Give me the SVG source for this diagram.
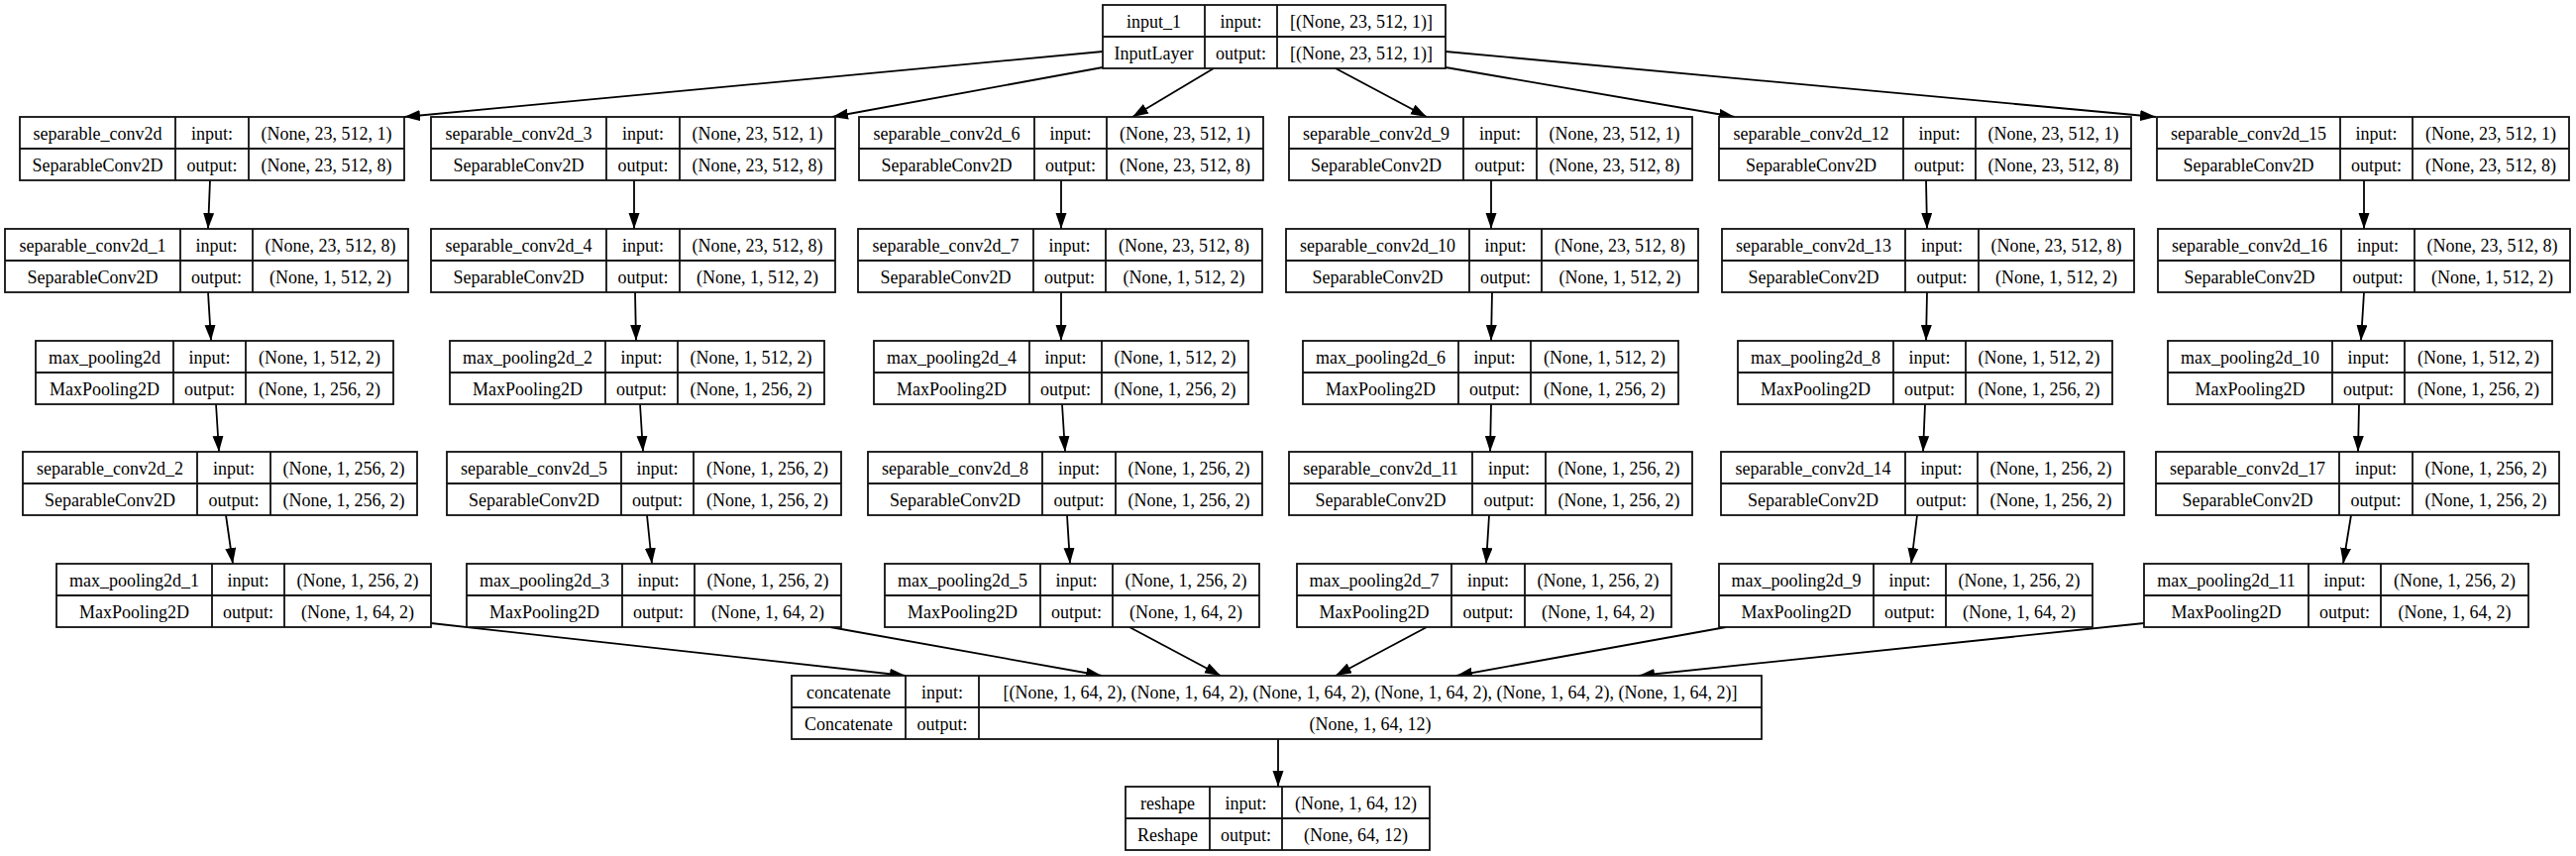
<svg xmlns="http://www.w3.org/2000/svg" width="2600" height="864" viewBox="0 0 2600 864">
<style>
.b{fill:#fff;stroke:#111;stroke-width:1.8}
.g{fill:none;stroke:#111;stroke-width:1.8}
text{font-family:"Liberation Serif","Times New Roman",serif;font-size:18px;text-anchor:middle;fill:#000}
.e line{stroke:#000;stroke-width:1.8;marker-end:url(#ah)}
</style>
<defs>
<marker id="ah" markerUnits="userSpaceOnUse" markerWidth="17" markerHeight="12" refX="16" refY="5.5" orient="auto">
<path d="M0,0 L16,5.5 L0,11 z" fill="#000"/>
</marker>
</defs>
<rect width="2600" height="864" fill="#fff"/>
<g id="edges" class="e">
<line x1="1113" y1="52" x2="408" y2="118"/>
<line x1="1113" y1="68" x2="840" y2="118"/>
<line x1="1225" y1="69" x2="1143" y2="118"/>
<line x1="1348" y1="69" x2="1440" y2="118"/>
<line x1="1459" y1="68" x2="1751" y2="118"/>
<line x1="1459" y1="52" x2="2176" y2="118"/>
<line x1="212" y1="182" x2="210" y2="231"/>
<line x1="210" y1="295" x2="213" y2="344"/>
<line x1="218" y1="408" x2="221" y2="456"/>
<line x1="228" y1="520" x2="235" y2="569"/>
<line x1="640" y1="182" x2="640" y2="231"/>
<line x1="641" y1="295" x2="642" y2="344"/>
<line x1="646" y1="408" x2="649" y2="456"/>
<line x1="653" y1="520" x2="658" y2="569"/>
<line x1="1071" y1="182" x2="1071" y2="231"/>
<line x1="1071" y1="295" x2="1071" y2="344"/>
<line x1="1072" y1="408" x2="1075" y2="456"/>
<line x1="1077" y1="520" x2="1080" y2="569"/>
<line x1="1505" y1="182" x2="1505" y2="231"/>
<line x1="1506" y1="295" x2="1505" y2="344"/>
<line x1="1505" y1="408" x2="1504" y2="456"/>
<line x1="1503" y1="520" x2="1500" y2="569"/>
<line x1="1944" y1="182" x2="1945" y2="231"/>
<line x1="1945" y1="295" x2="1944" y2="344"/>
<line x1="1943" y1="408" x2="1941" y2="456"/>
<line x1="1935" y1="520" x2="1929" y2="569"/>
<line x1="2386" y1="182" x2="2386" y2="231"/>
<line x1="2386" y1="295" x2="2383" y2="344"/>
<line x1="2381" y1="408" x2="2380" y2="456"/>
<line x1="2373" y1="520" x2="2365" y2="569"/>
<line x1="435" y1="629" x2="914" y2="682"/>
<line x1="838" y1="633" x2="1112" y2="682"/>
<line x1="1140" y1="633" x2="1232" y2="682"/>
<line x1="1440" y1="633" x2="1348" y2="682"/>
<line x1="1742" y1="633" x2="1470" y2="682"/>
<line x1="2164" y1="629" x2="1654" y2="682"/>
<line x1="1290" y1="746" x2="1290" y2="794"/>
</g>
<g id="input_1"><rect class="b" x="1113" y="5" width="346" height="64"/><path class="g" d="M1113 37H1459M1216 5V69M1289 5V69"/>
<text x="1164.5" y="28">input_1</text><text x="1164.5" y="60">InputLayer</text><text x="1252.5" y="28">input:</text><text x="1252.5" y="60">output:</text><text x="1374" y="28">[(None, 23, 512, 1)]</text><text x="1374" y="60">[(None, 23, 512, 1)]</text></g>

<g id="separable_conv2d"><rect class="b" x="20" y="118" width="388" height="64"/><path class="g" d="M20 150H408M177 118V182M251 118V182"/>
<text x="98.5" y="141">separable_conv2d</text><text x="98.5" y="173">SeparableConv2D</text><text x="214" y="141">input:</text><text x="214" y="173">output:</text><text x="329.5" y="141">(None, 23, 512, 1)</text><text x="329.5" y="173">(None, 23, 512, 8)</text></g>
<g id="separable_conv2d_1"><rect class="b" x="5" y="231" width="407" height="64"/><path class="g" d="M5 263H412M182 231V295M255 231V295"/>
<text x="93.5" y="254">separable_conv2d_1</text><text x="93.5" y="286">SeparableConv2D</text><text x="218.5" y="254">input:</text><text x="218.5" y="286">output:</text><text x="333.5" y="254">(None, 23, 512, 8)</text><text x="333.5" y="286">(None, 1, 512, 2)</text></g>
<g id="max_pooling2d"><rect class="b" x="36" y="344" width="361" height="64"/><path class="g" d="M36 376H397M175 344V408M248 344V408"/>
<text x="105.5" y="367">max_pooling2d</text><text x="105.5" y="399">MaxPooling2D</text><text x="211.5" y="367">input:</text><text x="211.5" y="399">output:</text><text x="322.5" y="367">(None, 1, 512, 2)</text><text x="322.5" y="399">(None, 1, 256, 2)</text></g>
<g id="separable_conv2d_2"><rect class="b" x="23" y="456" width="398" height="64"/><path class="g" d="M23 488H421M199 456V520M273 456V520"/>
<text x="111" y="479">separable_conv2d_2</text><text x="111" y="511">SeparableConv2D</text><text x="236" y="479">input:</text><text x="236" y="511">output:</text><text x="347" y="479">(None, 1, 256, 2)</text><text x="347" y="511">(None, 1, 256, 2)</text></g>
<g id="max_pooling2d_1"><rect class="b" x="57" y="569" width="378" height="64"/><path class="g" d="M57 601H435M214 569V633M287 569V633"/>
<text x="135.5" y="592">max_pooling2d_1</text><text x="135.5" y="624">MaxPooling2D</text><text x="250.5" y="592">input:</text><text x="250.5" y="624">output:</text><text x="361" y="592">(None, 1, 256, 2)</text><text x="361" y="624">(None, 1, 64, 2)</text></g>

<g id="separable_conv2d_3"><rect class="b" x="435" y="118" width="408" height="64"/><path class="g" d="M435 150H843M612 118V182M686 118V182"/>
<text x="523.5" y="141">separable_conv2d_3</text><text x="523.5" y="173">SeparableConv2D</text><text x="649" y="141">input:</text><text x="649" y="173">output:</text><text x="764.5" y="141">(None, 23, 512, 1)</text><text x="764.5" y="173">(None, 23, 512, 8)</text></g>
<g id="separable_conv2d_4"><rect class="b" x="435" y="231" width="408" height="64"/><path class="g" d="M435 263H843M612 231V295M686 231V295"/>
<text x="523.5" y="254">separable_conv2d_4</text><text x="523.5" y="286">SeparableConv2D</text><text x="649" y="254">input:</text><text x="649" y="286">output:</text><text x="764.5" y="254">(None, 23, 512, 8)</text><text x="764.5" y="286">(None, 1, 512, 2)</text></g>
<g id="max_pooling2d_2"><rect class="b" x="454" y="344" width="378" height="64"/><path class="g" d="M454 376H832M611 344V408M684 344V408"/>
<text x="532.5" y="367">max_pooling2d_2</text><text x="532.5" y="399">MaxPooling2D</text><text x="647.5" y="367">input:</text><text x="647.5" y="399">output:</text><text x="758" y="367">(None, 1, 512, 2)</text><text x="758" y="399">(None, 1, 256, 2)</text></g>
<g id="separable_conv2d_5"><rect class="b" x="451" y="456" width="398" height="64"/><path class="g" d="M451 488H849M627 456V520M700 456V520"/>
<text x="539" y="479">separable_conv2d_5</text><text x="539" y="511">SeparableConv2D</text><text x="663.5" y="479">input:</text><text x="663.5" y="511">output:</text><text x="774.5" y="479">(None, 1, 256, 2)</text><text x="774.5" y="511">(None, 1, 256, 2)</text></g>
<g id="max_pooling2d_3"><rect class="b" x="471" y="569" width="378" height="64"/><path class="g" d="M471 601H849M628 569V633M701 569V633"/>
<text x="549.5" y="592">max_pooling2d_3</text><text x="549.5" y="624">MaxPooling2D</text><text x="664.5" y="592">input:</text><text x="664.5" y="624">output:</text><text x="775" y="592">(None, 1, 256, 2)</text><text x="775" y="624">(None, 1, 64, 2)</text></g>

<g id="separable_conv2d_6"><rect class="b" x="867" y="118" width="408" height="64"/><path class="g" d="M867 150H1275M1044 118V182M1117 118V182"/>
<text x="955.5" y="141">separable_conv2d_6</text><text x="955.5" y="173">SeparableConv2D</text><text x="1080.5" y="141">input:</text><text x="1080.5" y="173">output:</text><text x="1196" y="141">(None, 23, 512, 1)</text><text x="1196" y="173">(None, 23, 512, 8)</text></g>
<g id="separable_conv2d_7"><rect class="b" x="866" y="231" width="408" height="64"/><path class="g" d="M866 263H1274M1043 231V295M1116 231V295"/>
<text x="954.5" y="254">separable_conv2d_7</text><text x="954.5" y="286">SeparableConv2D</text><text x="1079.5" y="254">input:</text><text x="1079.5" y="286">output:</text><text x="1195" y="254">(None, 23, 512, 8)</text><text x="1195" y="286">(None, 1, 512, 2)</text></g>
<g id="max_pooling2d_4"><rect class="b" x="882" y="344" width="378" height="64"/><path class="g" d="M882 376H1260M1039 344V408M1112 344V408"/>
<text x="960.5" y="367">max_pooling2d_4</text><text x="960.5" y="399">MaxPooling2D</text><text x="1075.5" y="367">input:</text><text x="1075.5" y="399">output:</text><text x="1186" y="367">(None, 1, 512, 2)</text><text x="1186" y="399">(None, 1, 256, 2)</text></g>
<g id="separable_conv2d_8"><rect class="b" x="876" y="456" width="398" height="64"/><path class="g" d="M876 488H1274M1052 456V520M1126 456V520"/>
<text x="964" y="479">separable_conv2d_8</text><text x="964" y="511">SeparableConv2D</text><text x="1089" y="479">input:</text><text x="1089" y="511">output:</text><text x="1200" y="479">(None, 1, 256, 2)</text><text x="1200" y="511">(None, 1, 256, 2)</text></g>
<g id="max_pooling2d_5"><rect class="b" x="893" y="569" width="378" height="64"/><path class="g" d="M893 601H1271M1050 569V633M1123 569V633"/>
<text x="971.5" y="592">max_pooling2d_5</text><text x="971.5" y="624">MaxPooling2D</text><text x="1086.5" y="592">input:</text><text x="1086.5" y="624">output:</text><text x="1197" y="592">(None, 1, 256, 2)</text><text x="1197" y="624">(None, 1, 64, 2)</text></g>

<g id="separable_conv2d_9"><rect class="b" x="1301" y="118" width="407" height="64"/><path class="g" d="M1301 150H1708M1477 118V182M1551 118V182"/>
<text x="1389" y="141">separable_conv2d_9</text><text x="1389" y="173">SeparableConv2D</text><text x="1514" y="141">input:</text><text x="1514" y="173">output:</text><text x="1629.5" y="141">(None, 23, 512, 1)</text><text x="1629.5" y="173">(None, 23, 512, 8)</text></g>
<g id="separable_conv2d_10"><rect class="b" x="1298" y="231" width="416" height="64"/><path class="g" d="M1298 263H1714M1483 231V295M1556 231V295"/>
<text x="1390.5" y="254">separable_conv2d_10</text><text x="1390.5" y="286">SeparableConv2D</text><text x="1519.5" y="254">input:</text><text x="1519.5" y="286">output:</text><text x="1635" y="254">(None, 23, 512, 8)</text><text x="1635" y="286">(None, 1, 512, 2)</text></g>
<g id="max_pooling2d_6"><rect class="b" x="1315" y="344" width="379" height="64"/><path class="g" d="M1315 376H1694M1472 344V408M1545 344V408"/>
<text x="1393.5" y="367">max_pooling2d_6</text><text x="1393.5" y="399">MaxPooling2D</text><text x="1508.5" y="367">input:</text><text x="1508.5" y="399">output:</text><text x="1619.5" y="367">(None, 1, 512, 2)</text><text x="1619.5" y="399">(None, 1, 256, 2)</text></g>
<g id="separable_conv2d_11"><rect class="b" x="1301" y="456" width="407" height="64"/><path class="g" d="M1301 488H1708M1486 456V520M1560 456V520"/>
<text x="1393.5" y="479">separable_conv2d_11</text><text x="1393.5" y="511">SeparableConv2D</text><text x="1523" y="479">input:</text><text x="1523" y="511">output:</text><text x="1634" y="479">(None, 1, 256, 2)</text><text x="1634" y="511">(None, 1, 256, 2)</text></g>
<g id="max_pooling2d_7"><rect class="b" x="1309" y="569" width="378" height="64"/><path class="g" d="M1309 601H1687M1465 569V633M1539 569V633"/>
<text x="1387" y="592">max_pooling2d_7</text><text x="1387" y="624">MaxPooling2D</text><text x="1502" y="592">input:</text><text x="1502" y="624">output:</text><text x="1613" y="592">(None, 1, 256, 2)</text><text x="1613" y="624">(None, 1, 64, 2)</text></g>

<g id="separable_conv2d_12"><rect class="b" x="1735" y="118" width="416" height="64"/><path class="g" d="M1735 150H2151M1921 118V182M1994 118V182"/>
<text x="1828" y="141">separable_conv2d_12</text><text x="1828" y="173">SeparableConv2D</text><text x="1957.5" y="141">input:</text><text x="1957.5" y="173">output:</text><text x="2072.5" y="141">(None, 23, 512, 1)</text><text x="2072.5" y="173">(None, 23, 512, 8)</text></g>
<g id="separable_conv2d_13"><rect class="b" x="1738" y="231" width="416" height="64"/><path class="g" d="M1738 263H2154M1923 231V295M1997 231V295"/>
<text x="1830.5" y="254">separable_conv2d_13</text><text x="1830.5" y="286">SeparableConv2D</text><text x="1960" y="254">input:</text><text x="1960" y="286">output:</text><text x="2075.5" y="254">(None, 23, 512, 8)</text><text x="2075.5" y="286">(None, 1, 512, 2)</text></g>
<g id="max_pooling2d_8"><rect class="b" x="1754" y="344" width="378" height="64"/><path class="g" d="M1754 376H2132M1911 344V408M1984 344V408"/>
<text x="1832.5" y="367">max_pooling2d_8</text><text x="1832.5" y="399">MaxPooling2D</text><text x="1947.5" y="367">input:</text><text x="1947.5" y="399">output:</text><text x="2058" y="367">(None, 1, 512, 2)</text><text x="2058" y="399">(None, 1, 256, 2)</text></g>
<g id="separable_conv2d_14"><rect class="b" x="1737" y="456" width="407" height="64"/><path class="g" d="M1737 488H2144M1923 456V520M1996 456V520"/>
<text x="1830" y="479">separable_conv2d_14</text><text x="1830" y="511">SeparableConv2D</text><text x="1959.5" y="479">input:</text><text x="1959.5" y="511">output:</text><text x="2070" y="479">(None, 1, 256, 2)</text><text x="2070" y="511">(None, 1, 256, 2)</text></g>
<g id="max_pooling2d_9"><rect class="b" x="1735" y="569" width="377" height="64"/><path class="g" d="M1735 601H2112M1891 569V633M1964 569V633"/>
<text x="1813" y="592">max_pooling2d_9</text><text x="1813" y="624">MaxPooling2D</text><text x="1927.5" y="592">input:</text><text x="1927.5" y="624">output:</text><text x="2038" y="592">(None, 1, 256, 2)</text><text x="2038" y="624">(None, 1, 64, 2)</text></g>

<g id="separable_conv2d_15"><rect class="b" x="2177" y="118" width="416" height="64"/><path class="g" d="M2177 150H2593M2362 118V182M2435 118V182"/>
<text x="2269.5" y="141">separable_conv2d_15</text><text x="2269.5" y="173">SeparableConv2D</text><text x="2398.5" y="141">input:</text><text x="2398.5" y="173">output:</text><text x="2514" y="141">(None, 23, 512, 1)</text><text x="2514" y="173">(None, 23, 512, 8)</text></g>
<g id="separable_conv2d_16"><rect class="b" x="2178" y="231" width="416" height="64"/><path class="g" d="M2178 263H2594M2363 231V295M2437 231V295"/>
<text x="2270.5" y="254">separable_conv2d_16</text><text x="2270.5" y="286">SeparableConv2D</text><text x="2400" y="254">input:</text><text x="2400" y="286">output:</text><text x="2515.5" y="254">(None, 23, 512, 8)</text><text x="2515.5" y="286">(None, 1, 512, 2)</text></g>
<g id="max_pooling2d_10"><rect class="b" x="2188" y="344" width="388" height="64"/><path class="g" d="M2188 376H2576M2354 344V408M2427 344V408"/>
<text x="2271" y="367">max_pooling2d_10</text><text x="2271" y="399">MaxPooling2D</text><text x="2390.5" y="367">input:</text><text x="2390.5" y="399">output:</text><text x="2501.5" y="367">(None, 1, 512, 2)</text><text x="2501.5" y="399">(None, 1, 256, 2)</text></g>
<g id="separable_conv2d_17"><rect class="b" x="2176" y="456" width="407" height="64"/><path class="g" d="M2176 488H2583M2361 456V520M2435 456V520"/>
<text x="2268.5" y="479">separable_conv2d_17</text><text x="2268.5" y="511">SeparableConv2D</text><text x="2398" y="479">input:</text><text x="2398" y="511">output:</text><text x="2509" y="479">(None, 1, 256, 2)</text><text x="2509" y="511">(None, 1, 256, 2)</text></g>
<g id="max_pooling2d_11"><rect class="b" x="2164" y="569" width="388" height="64"/><path class="g" d="M2164 601H2552M2330 569V633M2403 569V633"/>
<text x="2247" y="592">max_pooling2d_11</text><text x="2247" y="624">MaxPooling2D</text><text x="2366.5" y="592">input:</text><text x="2366.5" y="624">output:</text><text x="2477.5" y="592">(None, 1, 256, 2)</text><text x="2477.5" y="624">(None, 1, 64, 2)</text></g>

<g id="concatenate"><rect class="b" x="799" y="682" width="979" height="64"/><path class="g" d="M799 714H1778M914 682V746M988 682V746"/>
<text x="856.5" y="705">concatenate</text><text x="856.5" y="737">Concatenate</text><text x="951" y="705">input:</text><text x="951" y="737">output:</text><text x="1383" y="705">[(None, 1, 64, 2), (None, 1, 64, 2), (None, 1, 64, 2), (None, 1, 64, 2), (None, 1, 64, 2), (None, 1, 64, 2)]</text><text x="1383" y="737">(None, 1, 64, 12)</text></g>
<g id="reshape"><rect class="b" x="1136" y="794" width="307" height="64"/><path class="g" d="M1136 826H1443M1221 794V858M1294 794V858"/>
<text x="1178.5" y="817">reshape</text><text x="1178.5" y="849">Reshape</text><text x="1257.5" y="817">input:</text><text x="1257.5" y="849">output:</text><text x="1368.5" y="817">(None, 1, 64, 12)</text><text x="1368.5" y="849">(None, 64, 12)</text></g>
</svg>
